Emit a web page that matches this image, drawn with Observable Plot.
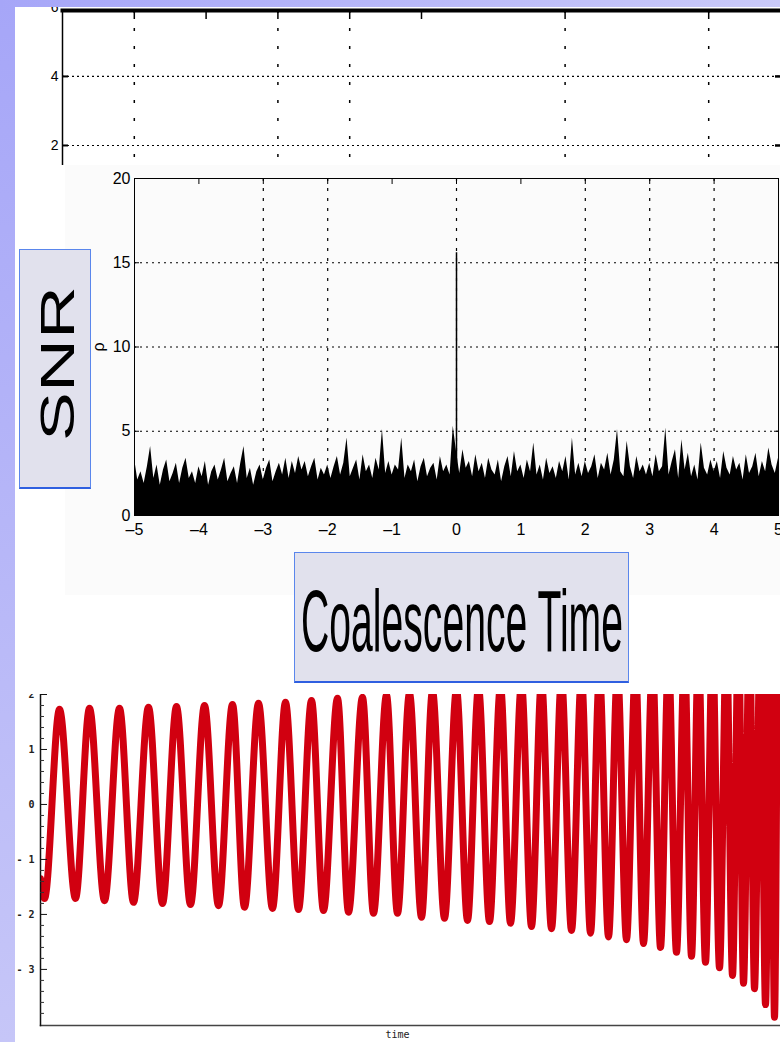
<!DOCTYPE html>
<html><head><meta charset="utf-8">
<script src="https://cdn.jsdelivr.net/npm/d3@7"></script>
<script src="https://cdn.jsdelivr.net/npm/@observablehq/plot@0.6"></script>
<style>
html,body{margin:0;padding:0;background:#fff;}
#page{position:relative;width:780px;height:1042px;overflow:hidden;background:#fff;font-family:"Liberation Sans",Arial,sans-serif;}
.abs{position:absolute;}
#leftStrip{left:0;top:0;width:15px;height:1042px;background:linear-gradient(#a6a6f8,#c6c6f8);z-index:5}
#topStrip{left:0;top:0;width:780px;height:7px;background:linear-gradient(90deg,#a6a6f8,#cacaf8);z-index:5}
#p1{left:0;top:0;width:780px;height:165px;overflow:hidden}
#p2{left:65px;top:165px;width:715px;height:430px;background:#fbfbfb;overflow:hidden}
#p3{left:15px;top:694px;width:765px;height:348px;overflow:hidden}
.box{position:absolute;background:#e1e1ed;border:1px solid #5a86ec;border-bottom:2px solid #2f5fe0;box-sizing:border-box;z-index:4}
.box svg{position:absolute;left:0;top:0}
</style></head>
<body>
<div id="page">
  <div id="p1" class="abs"></div>
  <div id="p2" class="abs"></div>
  <div id="p3" class="abs"></div>
  <div id="leftStrip" class="abs"></div>
  <div id="topStrip" class="abs"></div>
  <div class="box" style="left:19px;top:249px;width:72px;height:240px">
    <svg width="72" height="240"><text transform="translate(54,191) rotate(-90)" font-family="Liberation Sans, Arial, sans-serif" font-size="49" textLength="155" lengthAdjust="spacingAndGlyphs" fill="#000">SNR</text></svg>
  </div>
  <div class="box" style="left:294px;top:552px;width:335px;height:131px">
    <svg width="335" height="131"><text x="6" y="98" font-family="Liberation Sans Narrow, Liberation Sans, Arial, sans-serif" font-size="88" textLength="322" lengthAdjust="spacingAndGlyphs" fill="#000">Coalescence Time</text></svg>
  </div>
</div>
<script>
// ---------- Panel 1 (top grid fragment) ----------
const topXTicks = [1, 2, 3, 4, 5, 7, 9];
const topXGrid = [1, 3, 4, 7, 9];
const topYTicks = [2, 4];
const topYLabels = [2, 4, 6];

// ---------- Panel 2 (SNR vs coalescence time) ----------
const snrStart = -5, snrStep = 0.05;
const snrValues = [
  3.4,2.1,2.6,1.9,2.9,4.1,2.2,3.0,1.8,2.7,3.3,2.0,2.5,3.1,1.9,2.8,3.4,2.2,2.6,1.9,
  2.9,2.3,3.2,1.8,2.6,3.0,2.1,2.7,3.4,2.0,2.5,2.9,1.9,3.1,4.1,2.2,2.8,1.8,2.6,3.0,
  2.1,2.8,3.3,2.0,2.6,3.1,2.4,3.4,2.2,3.2,2.5,3.5,2.7,3.2,2.3,2.9,3.4,2.1,2.8,2.4,
  3.0,2.2,2.9,3.5,2.4,3.1,4.6,2.3,2.8,3.3,2.1,3.6,2.6,3.0,2.2,3.4,2.7,5.1,2.5,3.2,
  2.4,3.0,2.7,4.6,2.2,3.0,2.6,3.3,2.0,2.9,3.4,2.3,2.8,3.1,2.1,3.5,2.6,3.0,2.4,5.3,
  3.8,2.5,3.9,2.8,3.2,2.3,3.6,2.6,3.1,2.2,3.4,2.7,2.4,3.3,2.0,2.9,3.5,2.3,3.8,2.6,
  3.0,2.2,3.3,2.6,4.3,2.4,3.0,2.1,3.4,2.5,2.9,2.2,3.2,2.6,3.5,2.1,4.6,2.4,3.1,2.3,
  3.2,2.5,2.9,3.6,2.2,3.1,2.7,3.7,2.4,3.3,5.1,2.6,2.3,4.4,2.9,2.2,3.5,2.6,3.0,2.4,
  3.1,2.3,3.6,2.6,2.9,5.2,2.4,3.2,3.9,2.2,4.5,2.7,3.7,2.3,3.0,2.1,4.3,2.8,2.4,3.3,
  2.6,3.2,2.2,3.8,2.8,2.4,3.5,2.7,3.1,2.1,3.6,2.5,2.9,3.7,2.3,3.2,2.6,4.0,3.0,2.5,3.4
];
const peakTime = [0];
const peakSNR = [15.6];
const snrXTicks = [-5, -4, -3, -2, -1, 0, 1, 2, 3, 4, 5];
const snrXGrid = [-3, -2, 0, 2, 3, 4];
const snrYTicks = [0, 5, 10, 15, 20];
const snrYGrid = [5, 10, 15];

// ---------- Panel 3 (chirp waveform: extrema) ----------
const waveTime = [0,4,19,35,49,64,79,93,108,122,136,150,164,178,192,204,218,232,245,258,271,283,297,308,322,333,346,357,369,381,392,404,416,427,438,449,460,470,481,491,501,511,521,531,541,550,559,568,577,586,595,603,612,620,628,636,644,651,658,665,672,679,686,692,698,703,709,714,720,725,730,734,738,740];
const waveValue = [-1.35,-1.71,1.73,-1.71,1.75,-1.75,1.75,-1.78,1.77,-1.80,1.78,-1.82,1.80,-1.84,1.82,-1.87,1.84,-1.89,1.86,-1.91,1.89,-1.93,1.93,-1.96,1.95,-1.98,1.99,-1.98,2.02,-2.05,2.06,-2.07,2.09,-2.11,2.12,-2.13,2.15,-2.16,2.19,-2.22,2.24,-2.26,2.28,-2.29,2.32,-2.34,2.38,-2.41,2.44,-2.46,2.50,-2.53,2.57,-2.60,2.65,-2.69,2.73,-2.76,2.82,-2.87,2.92,-2.97,3.04,-3.11,3.18,-3.25,3.30,-3.35,3.50,-3.64,3.75,-3.87,3.90,2.0];
const waveMajorTicks = [-3, -2, -1, 0, 1, 2];
const waveMinorTicks = [-3.8,-3.6,-3.4,-3.2,-2.8,-2.6,-2.4,-2.2,-1.8,-1.6,-1.4,-1.2,-0.8,-0.6,-0.4,-0.2,0.2,0.4,0.6,0.8,1.2,1.4,1.6,1.8];

const blank = () => "";

// Panel 1
const p1 = Plot.plot({
  width: 780, height: 165,
  marginLeft: 62, marginTop: 10, marginRight: 0, marginBottom: 0,
  style: {background: "#fff", fontFamily: "Liberation Sans Narrow, Liberation Sans, sans-serif"},
  x: {domain: [0, 10], axis: null},
  y: {domain: [1.42, 5.91], axis: null},
  marks: [
    Plot.gridX(topXGrid, {stroke: "#000", strokeOpacity: 1, strokeWidth: 1.5, strokeDasharray: "3,15"}),
    Plot.gridY(topYTicks, {stroke: "#000", strokeOpacity: 1, strokeWidth: 1.2, strokeDasharray: "2,3"}),
    Plot.frame({anchor: "left", stroke: "#000", strokeWidth: 1.5}),
    Plot.frame({anchor: "top", stroke: "#000", strokeWidth: 4}),
    Plot.axisX(topXTicks, {anchor: "top", tickSize: 8, dy: 8, tickFormat: blank, strokeWidth: 1.5, label: null}),
    Plot.axisY(topYTicks, {anchor: "left", tickSize: 6, dx: 6, tickFormat: blank, strokeWidth: 2, label: null}),
    Plot.axisY(topYTicks, {anchor: "right", tickSize: 6, dx: -6, tickFormat: blank, strokeWidth: 2.5, label: null}),
    Plot.axisY(topYLabels, {anchor: "left", tickSize: 0, tickPadding: 4, fontSize: 14, label: null})
  ]
});
document.getElementById("p1").append(p1);

// Panel 2
const snrData = snrValues.map((v, i) => ({t: snrStart + i * snrStep, v}));
const peakData = peakTime.map((t, i) => ({t, v: peakSNR[i]}));
const fmtMinus = d => d < 0 ? "\u2013" + (-d) : String(d);
const p2 = Plot.plot({
  width: 715, height: 430,
  marginLeft: 69, marginRight: 2, marginTop: 13, marginBottom: 80,
  style: {background: "transparent", fontFamily: "Liberation Sans Narrow, Liberation Sans, sans-serif"},
  x: {domain: [-5, 5], axis: null},
  y: {domain: [0, 20], axis: null},
  marks: [
    Plot.gridY(snrYGrid, {stroke: "#000", strokeOpacity: 1, strokeWidth: 1, strokeDasharray: "2,4"}),
    Plot.gridX(snrXGrid, {stroke: "#000", strokeOpacity: 1, strokeWidth: 1.2, strokeDasharray: "3,7"}),
    Plot.areaY(snrData, {x: "t", y: "v", fill: "#000", curve: "linear"}),
    Plot.ruleX(peakData, {x: "t", y1: 0, y2: "v", stroke: "#000", strokeWidth: 1.5}),
    Plot.frame({stroke: "#000", strokeWidth: 1}),
    Plot.axisX(snrXTicks, {anchor: "bottom", tickSize: 5, dy: -5, tickFormat: blank, label: null}),
    Plot.axisX(snrXTicks, {anchor: "top", tickSize: 5, dy: 5, tickFormat: blank, label: null}),
    Plot.axisY(snrYTicks, {anchor: "left", tickSize: 5, dx: 5, tickFormat: blank, label: null}),
    Plot.axisY(snrYTicks, {anchor: "right", tickSize: 5, dx: -5, tickFormat: blank, label: null}),
    Plot.axisX(snrXTicks, {anchor: "bottom", tickSize: 0, tickPadding: 8, fontSize: 16, tickFormat: fmtMinus, label: null}),
    Plot.axisY(snrYTicks, {anchor: "left", tickSize: 0, tickPadding: 4, fontSize: 16, label: "\u03C1", labelArrow: "none", labelAnchor: "center", labelOffset: 42})
  ]
});
document.getElementById("p2").append(p2);

// Panel 3
const waveData = waveTime.map((t, i) => ({t, v: waveValue[i]}));
const monoFont = "DejaVu Sans Mono, Liberation Mono, monospace";
const p3 = Plot.plot({
  width: 765, height: 348,
  marginLeft: 25, marginRight: 0, marginTop: 0, marginBottom: 17,
  style: {background: "#fff", fontFamily: monoFont},
  x: {domain: [0, 740], axis: null},
  y: {domain: [-4.02, 2], axis: null},
  marks: [
    Plot.line(waveData, {x: "t", y: "v", stroke: "#d10010", strokeWidth: 7, curve: "monotone-x", clip: true}),
    Plot.frame({anchor: "bottom", stroke: "#444", strokeWidth: 1.5}),
    Plot.frame({anchor: "left", stroke: "#111", strokeWidth: 1.5}),
    Plot.axisY(waveMinorTicks, {anchor: "left", tickSize: 4, dx: 4, tickFormat: blank, stroke: "#333", label: null}),
    Plot.axisY(waveMajorTicks, {anchor: "left", tickSize: 7, dx: 7, tickFormat: blank, stroke: "#111", label: null}),
    Plot.axisY(waveMajorTicks, {anchor: "left", tickSize: 0, tickPadding: 6, fontSize: 10, fontWeight: "bold", fontFamily: monoFont, fill: "#222", label: null,
      tickFormat: d => d < 0 ? "- " + (-d) : String(d)}),
    Plot.text(["time"], {frameAnchor: "bottom", dx: -13, dy: 12, fontSize: 10, fontFamily: monoFont, fill: "#222"})
  ]
});
document.getElementById("p3").append(p3);
</script>
</body></html>
